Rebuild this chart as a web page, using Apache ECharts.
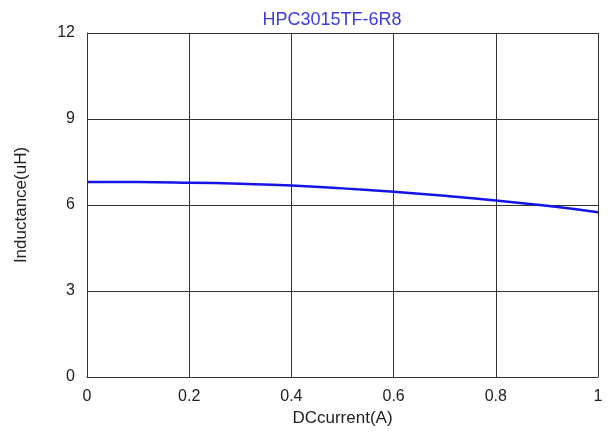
<!DOCTYPE html>
<html><head><meta charset="utf-8">
<script src="https://cdn.jsdelivr.net/npm/echarts@6/dist/echarts.min.js"></script>
<style>html,body{margin:0;padding:0;background:#fff}#c{width:613px;height:432px}</style>
</head><body><div id="c"></div>
<script>
const titleText = "HPC3015TF-6R8";
const xName = "DCcurrent(A)";
const yName = "Inductance(uH)";
const currents = [0, 0.1, 0.2, 0.3, 0.4, 0.5, 0.6, 0.7, 0.8, 0.9, 1.0];
const inductance = [6.8, 6.8, 6.78, 6.74, 6.68, 6.58, 6.46, 6.32, 6.16, 5.97, 5.75];

const chart = echarts.init(document.getElementById('c'));
const font = 'Liberation Sans, Arial, sans-serif';
chart.setOption({
  animation: false,
  title: {text: titleText, left: 327, top: 6, textAlign: 'center',
    textStyle: {color: '#3b3be6', fontSize: 18, fontWeight: 'normal', fontFamily: font}},
  grid: {left: 87, right: 15, top: 33, bottom: 55},
  xAxis: {type: 'value', min: 0, max: 1, interval: 0.2,
    name: xName, nameLocation: 'middle', nameGap: 29,
    nameTextStyle: {color: '#222', fontSize: 17, fontFamily: font},
    axisLine: {lineStyle: {color: '#333', width: 1}},
    axisTick: {show: false},
    axisLabel: {color: '#222', fontSize: 16, fontFamily: font, margin: 12,
      formatter: v => String(Math.round(v*10)/10)},
    splitLine: {show: true, lineStyle: {color: '#333', width: 1}}},
  yAxis: {type: 'value', min: 0, max: 12, interval: 3,
    name: yName, nameLocation: 'middle', nameGap: 57,
    nameTextStyle: {color: '#222', fontSize: 17, fontFamily: font},
    axisLine: {show: true, lineStyle: {color: '#333', width: 1}},
    axisTick: {show: false},
    axisLabel: {color: '#222', fontSize: 16, fontFamily: font, margin: 12},
    splitLine: {show: true, lineStyle: {color: '#333', width: 1}}},
  series: [{type: 'line', data: currents.map((x, i) => [x, inductance[i]]),
    smooth: true, showSymbol: false, lineStyle: {color: '#1414e6', width: 2.5}}]
});
</script></body></html>
